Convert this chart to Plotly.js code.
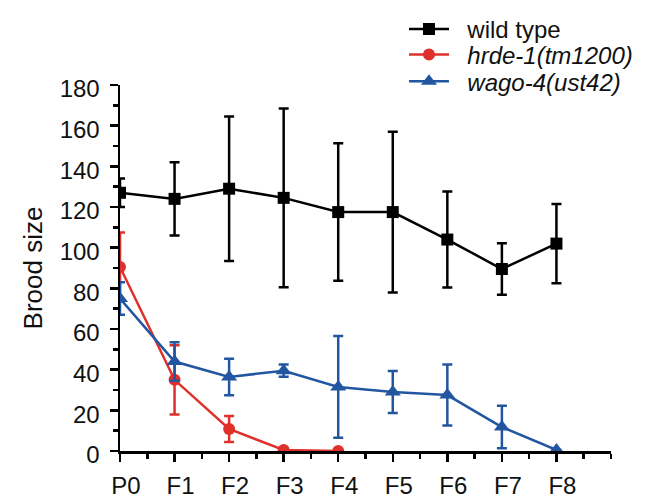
<!DOCTYPE html>
<html>
<head>
<meta charset="utf-8">
<script src="https://cdn.plot.ly/plotly-3.0.1.min.js"></script>
<style>html,body{margin:0;padding:0;background:#fff;}#chart{width:653px;height:500px;}</style>
</head>
<body>
<div id="chart"></div>
<script>
// Data
var generations = [0, 1, 2, 3, 4, 5, 6, 7, 8];
var tickLabels = ['P0', 'F1', 'F2', 'F3', 'F4', 'F5', 'F6', 'F7', 'F8'];

var wildTypeMean = [127, 124, 129, 124.5, 117.5, 117.5, 104, 89.5, 102];
var wildTypeErr  = [7, 18, 35.5, 44, 33.8, 39.5, 23.6, 12.7, 19.5];

var hrdeGen  = [0, 1, 2, 3, 4];
var hrdeMean = [90.5, 35, 10.8, 0.5, 0];
var hrdeErr  = [17, 17, 6.4, 0, 0];

var wagoMean = [75, 44, 36.4, 39.5, 31.5, 29, 27.5, 11.8, 0.5];
var wagoErr  = [8, 9.5, 9, 3, 25, 10.3, 15, 10.5, 0];

var names = ['wild type', '<i>hrde-1(tm1200)</i>', '<i>wago-4(ust42)</i>'];

var black = '#000000', red = '#e0302b', blue = '#2256a0';
var textColor = '#111111';
var pad = '\u00a0\u00a0';

function errSpec(arr, color) {
  return {type: 'data', array: arr, visible: true, color: color, thickness: 2.5, width: 5};
}

var traces = [
  {x: generations, y: wildTypeMean, name: pad + names[0], legend: 'legend', mode: 'lines+markers', type: 'scatter',
   cliponaxis: true,
   line: {color: black, width: 2.5}, marker: {symbol: 'square', size: 12, color: black},
   error_y: errSpec(wildTypeErr, black)},
  {x: hrdeGen, y: hrdeMean, name: pad + names[1], legend: 'legend2', mode: 'lines+markers', type: 'scatter',
   cliponaxis: true,
   line: {color: red, width: 2.5}, marker: {symbol: 'circle', size: 12, color: red},
   error_y: errSpec(hrdeErr, red)},
  {x: generations, y: wagoMean, name: pad + names[2], legend: 'legend3', mode: 'lines+markers', type: 'scatter',
   cliponaxis: true,
   line: {color: blue, width: 2.5}, marker: {symbol: 'triangle-up', size: 14, color: blue},
   error_y: errSpec(wagoErr, blue)}
];

var font = 'Arial, "Liberation Sans", sans-serif';

function legendAt(y) {
  return {x: 0.5784, xanchor: 'left', y: y, yanchor: 'middle', bgcolor: 'rgba(0,0,0,0)',
          itemwidth: 40, borderwidth: 0,
          font: {family: font, size: 24, color: textColor}};
}

var layout = {
  width: 653, height: 500,
  margin: {l: 120, r: 42, t: 85, b: 49, autoexpand: false},
  paper_bgcolor: '#fff', plot_bgcolor: '#fff',
  font: {family: font, color: textColor, size: 24},
  showlegend: true,
  legend: legendAt(1.1522),
  legend2: legendAt(1.0820),
  legend3: legendAt(1.0090),
  xaxis: {
    range: [0, 9], tickvals: generations, ticktext: tickLabels,
    showgrid: false, zeroline: false, showline: true, linecolor: '#000', linewidth: 2.5,
    ticks: 'outside', ticklen: 8, tickwidth: 2.5, tickcolor: '#000',
    minor: {dtick: 0.5, ticks: 'outside', ticklen: 5, tickwidth: 2.5, tickcolor: '#000'},
    tickfont: {family: font, size: 24, color: textColor},
    ticklabelstandoff: 4, ticklabelshift: 6,
    automargin: false, fixedrange: true
  },
  yaxis: {
    range: [0, 180], dtick: 20, tick0: 0,
    showgrid: false, zeroline: false, showline: true, linecolor: '#000', linewidth: 2.5,
    ticks: 'outside', ticklen: 8, tickwidth: 2.5, tickcolor: '#000',
    minor: {dtick: 10, ticks: 'outside', ticklen: 5, tickwidth: 2.5, tickcolor: '#000'},
    tickfont: {family: font, size: 24, color: textColor},
    ticklabelstandoff: 5, ticklabelshift: 4,
    title: {text: 'Brood size', font: {family: font, size: 26, color: textColor}, standoff: 10},
    automargin: false, fixedrange: true
  }
};

Plotly.newPlot('chart', traces, layout, {displayModeBar: false, staticPlot: true});
</script>
</body>
</html>
